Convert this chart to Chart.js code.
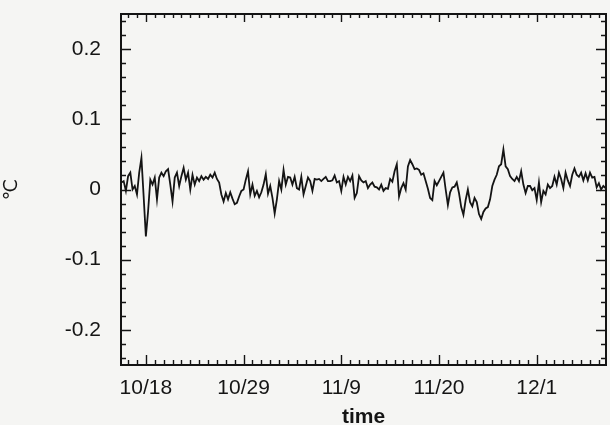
<!DOCTYPE html>
<html><head><meta charset="utf-8">
<script src="https://cdn.jsdelivr.net/npm/chart.js@4.4.1/dist/chart.umd.min.js"></script>
<style>html,body{margin:0;padding:0;background:#f5f5f3;}#wrap{width:610px;height:425px;}</style>
</head><body><div id="wrap"><canvas id="c" width="610" height="425"></canvas></div>
<script>
// time in days relative to 10/18 (0 = 10/18), 6-hourly samples
const days = [
-2.75,-2.5,-2.25,-2,-1.75,-1.5,-1.25,-1,-0.75,-0.5,-0.25,0,0.25,0.5,0.75,1,1.25,1.5,1.75,2,2.25,2.5,2.75,3,3.25,3.5,3.75,4,4.25,4.5,4.75,5,5.25,5.5,5.75,6,6.25,6.5,6.75,7,7.25,7.5,7.75,8,8.25,8.5,8.75,9,9.25,9.5,9.75,10,10.25,10.5,10.75,
11,11.25,11.5,11.75,12,12.25,12.5,12.75,13,13.25,13.5,13.75,14,14.25,14.5,14.75,15,15.25,15.5,15.75,16,16.25,16.5,16.75,17,17.25,17.5,17.75,18,18.25,18.5,18.75,19,19.25,19.5,19.75,20,20.25,20.5,20.75,21,21.25,21.5,21.75,22,22.25,22.5,22.75,23,23.25,23.5,23.75,24,24.25,
24.5,24.75,25,25.25,25.5,25.75,26,26.25,26.5,26.75,27,27.25,27.5,27.75,28,28.25,28.5,28.75,29,29.25,29.5,29.75,30,30.25,30.5,30.75,31,31.25,31.5,31.75,32,32.25,32.5,32.75,33,33.25,33.5,33.75,34,34.25,34.5,34.75,35,35.25,35.5,35.75,36,36.25,36.5,36.75,37,37.25,37.5,37.75,
38,38.25,38.5,38.75,39,39.25,39.5,39.75,40,40.25,40.5,40.75,41,41.25,41.5,41.75,42,42.25,42.5,42.75,43,43.25,43.5,43.75,44,44.25,44.5,44.75,45,45.25,45.5,45.75,46,46.25,46.5,46.75,47,47.25,47.5,47.75,48,48.25,48.5,48.75,49,49.25,49.5,49.75,50,50.25,50.5,50.75,51,51.25,51.5,51.75
];
// temperature anomaly (deg C)
const temps = [
0.010,0.012,-0.002,0.019,0.024,0.000,0.005,-0.007,0.024,0.045,-0.010,-0.067,-0.031,0.014,0.007,0.017,-0.014,0.017,0.024,0.019,0.026,0.029,0.007,-0.017,0.017,0.024,0.005,0.019,0.031,0.014,0.024,0.000,0.021,0.007,0.017,0.012,0.019,0.014,0.018,0.015,0.021,0.017,0.024,0.015,0.010,-0.007,-0.017,-0.005,-0.014,-0.004,-0.013,-0.021,-0.019,-0.010,-0.002,
0.000,0.014,0.026,-0.007,0.007,-0.009,-0.002,-0.011,-0.004,0.007,0.022,-0.006,0.005,-0.012,-0.034,-0.014,0.012,0.000,0.028,0.007,0.018,0.017,0.007,0.018,0.002,0.000,0.018,-0.007,0.005,0.017,0.012,-0.002,0.015,0.014,0.015,0.012,0.015,0.018,0.012,0.012,0.013,0.020,0.010,0.012,-0.002,0.018,0.007,0.018,0.012,0.020,-0.012,-0.005,0.019,0.013,
0.010,0.012,0.002,0.007,0.010,0.004,0.003,0.000,0.007,-0.002,0.002,0.001,0.015,0.011,0.026,0.036,-0.010,0.002,0.009,0.000,0.033,0.042,0.036,0.029,0.030,0.028,0.021,0.023,0.012,0.001,-0.012,-0.015,0.012,0.006,0.012,0.018,0.024,0.000,-0.022,-0.004,0.003,0.004,0.010,-0.005,-0.025,-0.036,-0.015,0.000,-0.018,-0.024,-0.012,-0.018,-0.035,-0.042,
-0.032,-0.027,-0.025,-0.014,0.005,0.014,0.021,0.033,0.036,0.057,0.033,0.029,0.019,0.015,0.012,0.018,0.012,0.026,0.007,-0.005,0.005,0.005,-0.001,0.002,-0.015,0.010,-0.018,-0.002,-0.007,0.007,0.002,0.005,0.018,0.007,0.024,0.015,0.002,0.024,0.013,0.005,0.021,0.030,0.021,0.018,0.024,0.013,0.023,0.013,0.024,0.017,0.018,0.003,0.009,0.000,0.005,0.002
];
const dateTickDays = [0, 11, 22, 33, 44];
const dateTickLabels = ['10/18', '10/29', '11/9', '11/20', '12/1'];
const yTickValues = [0.2, 0.1, 0, -0.1, -0.2];
const yTickLabels = ['0.2', '0.1', '0', '-0.1', '-0.2'];
const xRange = [-2.8, 51.8];
const yRange = [-0.25, 0.25];

const FONT = "'Liberation Sans', Arial, Helvetica, sans-serif";
const INK = '#141414';

const frameTicks = {
  id: 'frameTicks',
  beforeDraw(chart) {
    const ctx = chart.ctx;
    ctx.save();
    ctx.fillStyle = '#f5f5f3';
    ctx.fillRect(0, 0, chart.width, chart.height);
    ctx.restore();
  },
  afterDraw(chart) {
    const {ctx, chartArea: a, scales: {x, y}} = chart;
    ctx.save();
    ctx.strokeStyle = INK;
    ctx.lineWidth = 1.4;
    ctx.beginPath();
    for (let k = -12; k <= 12; k++) {
      const v = k / 50;
      const py = Math.round(y.getPixelForValue(v)) + 0.5;
      const len = (k % 5 === 0) ? 10 : 5;
      ctx.moveTo(a.left, py); ctx.lineTo(a.left + len, py);
      ctx.moveTo(a.right, py); ctx.lineTo(a.right - len, py);
    }
    for (let d = Math.ceil(xRange[0]); d <= Math.floor(xRange[1]); d++) {
      const px = Math.round(x.getPixelForValue(d)) + 0.5;
      const major = dateTickDays.includes(d);
      const lb = major ? 10 : 5;
      const lt = major ? 8 : 4;
      ctx.moveTo(px, a.bottom); ctx.lineTo(px, a.bottom - lb);
      ctx.moveTo(px, a.top); ctx.lineTo(px, a.top + lt);
    }
    ctx.stroke();
    ctx.lineWidth = 2;
    ctx.strokeRect(a.left, a.top, a.right - a.left, a.bottom - a.top);
    ctx.restore();
  }
};

new Chart(document.getElementById('c'), {
  type: 'line',
  data: {
    datasets: [{
      data: days.map((d, i) => ({x: d, y: temps[i]})),
      borderColor: INK,
      borderWidth: 1.8,
      pointRadius: 0,
      tension: 0,
      fill: false
    }]
  },
  options: {
    responsive: false,
    animation: false,
    devicePixelRatio: 1,
    layout: {padding: {top: 14, right: 4, left: 0, bottom: 0}},
    plugins: {legend: {display: false}, tooltip: {enabled: false}},
    scales: {
      x: {
        type: 'linear',
        min: xRange[0], max: xRange[1],
        grid: {display: false, drawTicks: false},
        border: {display: false},
        afterBuildTicks: s => { s.ticks = dateTickDays.map(v => ({value: v})); },
        afterFit: s => { s.height = 60; s.paddingLeft = 0; s.paddingRight = 0; },
        ticks: {
          autoSkip: false, maxRotation: 0, minRotation: 0,
          padding: 11, color: INK,
          font: {family: FONT, size: 21},
          callback: v => dateTickLabels[dateTickDays.indexOf(v)]
        },
        title: {
          display: true, text: 'time', color: INK,
          font: {family: FONT, size: 21, weight: 'bold', lineHeight: 0.75},
          padding: {top: 0, bottom: 0}
        }
      },
      y: {
        type: 'linear',
        min: yRange[0], max: yRange[1],
        grid: {display: false, drawTicks: false},
        border: {display: false},
        afterBuildTicks: s => { s.ticks = yTickValues.map(v => ({value: v})); },
        afterFit: s => { s.width = 121; s.paddingTop = 0; s.paddingBottom = 0; },
        ticks: {
          padding: 20, color: INK,
          font: {family: FONT, size: 21},
          callback: v => yTickLabels[yTickValues.indexOf(v)]
        },
        title: {
          display: true, text: '℃', color: INK,
          font: {family: "'DejaVu Sans', sans-serif", size: 19, lineHeight: 1},
          padding: {top: 3, bottom: 0}
        }
      }
    }
  },
  plugins: [frameTicks]
});
</script>
</body></html>
